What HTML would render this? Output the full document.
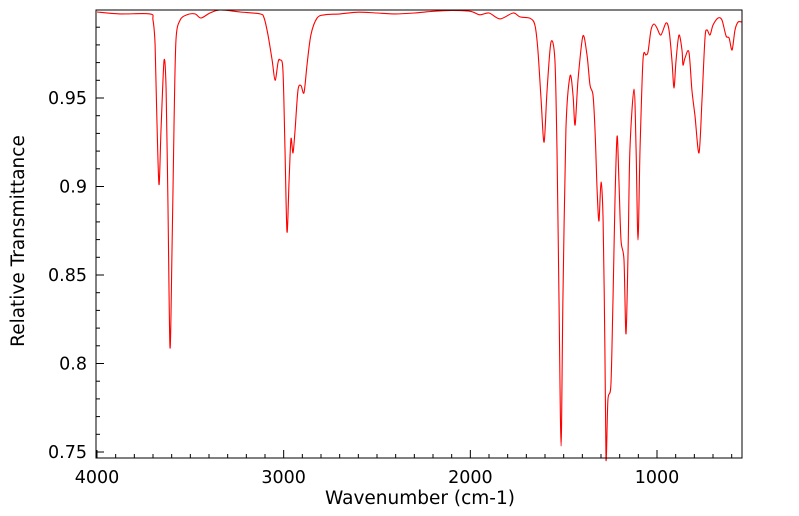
<!DOCTYPE html>
<html><head><meta charset="utf-8"><style>
body{margin:0;background:#fff;}
svg{display:block;font-family:"DejaVu Sans","Liberation Sans",sans-serif;}
</style></head><body>
<svg id="chart" width="799" height="516">
<g id="ticks"></g>
<g id="labels"></g>
<path id="line" fill="none" stroke="#ff0000" stroke-width="1.1" stroke-linejoin="round"/>
<rect x="96" y="10" width="646" height="448" fill="none" stroke="#000" stroke-width="1"/>
<text x="420" y="504" text-anchor="middle" font-size="18.5">Wavenumber (cm-1)</text>
<text x="0" y="0" text-anchor="middle" font-size="18.5" transform="translate(24,241) rotate(-90)">Relative Transmittance</text>
</svg>
<script>
const wavenumbers=[4000,3877,3716,3700,3689,3679,3668,3657,3641,3630,3620,3609,3598,3587,3577,3555,3518,3475,3443,3395,3341,3234,3127,3105,3084,3062,3046,3030,3020,3004,2993,2982,2971,2961,2950,2939,2923,2907,2891,2875,2854,2821,2779,2698,2600,2500,2400,2300,2200,2100,2000,1950,1900,1841,1771,1734,1680,1654,1638,1621,1605,1589,1568,1547,1536,1525,1514,1504,1488,1466,1450,1439,1423,1397,1375,1359,1343,1332,1321,1311,1300,1289,1279,1273,1263,1247,1236,1225,1214,1204,1193,1177,1166,1155,1145,1123,1112,1102,1091,1075,1059,1048,1032,1016,1000,979,952,936,920,909,898,882,866,861,850,829,813,797,775,759,743,732,716,700,673,652,630,614,598,582,566,545];
const transmittance=[0.9986,0.9975,0.9975,0.994,0.980,0.9376,0.901,0.932,0.971,0.955,0.892,0.809,0.864,0.9376,0.983,0.994,0.997,0.9975,0.9952,0.998,1.0,0.9986,0.9975,0.9952,0.9856,0.9715,0.960,0.9703,0.9715,0.966,0.9206,0.8743,0.9037,0.927,0.919,0.932,0.9545,0.957,0.953,0.9686,0.9856,0.9952,0.997,0.9975,0.9985,0.998,0.9975,0.998,0.999,0.9995,0.999,0.997,0.998,0.9947,0.998,0.9958,0.995,0.9912,0.977,0.949,0.925,0.9545,0.9816,0.9715,0.9206,0.8359,0.7534,0.8359,0.932,0.9624,0.9517,0.9347,0.9602,0.985,0.9743,0.9573,0.9517,0.932,0.898,0.8805,0.9025,0.881,0.8076,0.745,0.7794,0.7879,0.8359,0.8924,0.9285,0.9037,0.8698,0.8585,0.8167,0.8641,0.9206,0.955,0.9206,0.8698,0.9206,0.9715,0.9743,0.976,0.9884,0.9918,0.9895,0.9856,0.9924,0.9884,0.9715,0.9556,0.9715,0.9856,0.977,0.9686,0.9726,0.976,0.9545,0.9404,0.919,0.9489,0.9839,0.9884,0.9856,0.9912,0.9952,0.994,0.985,0.9839,0.9771,0.9884,0.9929,0.9929];
const xTickLabels=[4000,3000,2000,1000];
const yTickLabels=[0.75,0.8,0.85,0.9,0.95];
const NS="http://www.w3.org/2000/svg";
function xs(w){return 97+(4000-w)*0.18667;}
function ys(t){return 98+(0.95-t)*1770;}
const P=wavenumbers.map((w,i)=>[xs(w),Math.min(460,Math.max(10,ys(transmittance[i])))]);
let d="M"+P[0][0].toFixed(1)+","+P[0][1].toFixed(1);
for(let i=0;i<P.length-1;i++){
 const p0=P[Math.max(0,i-1)],p1=P[i],p2=P[i+1],p3=P[Math.min(P.length-1,i+2)];
 const t=0.15;
 const c1x=p1[0]+(p2[0]-p0[0])*t,c1y=p1[1]+(p2[1]-p0[1])*t;
 const c2x=p2[0]-(p3[0]-p1[0])*t,c2y=p2[1]-(p3[1]-p1[1])*t;
 d+=" C"+c1x.toFixed(1)+","+c1y.toFixed(1)+" "+c2x.toFixed(1)+","+c2y.toFixed(1)+" "+p2[0].toFixed(1)+","+p2[1].toFixed(1);
}
document.getElementById('line').setAttribute('d',d);
const tg=document.getElementById('ticks'),lg=document.getElementById('labels');
function ln(x1,y1,x2,y2){const l=document.createElementNS(NS,'line');
l.setAttribute('x1',x1);l.setAttribute('y1',y1);l.setAttribute('x2',x2);l.setAttribute('y2',y2);
l.setAttribute('stroke','#000');l.setAttribute('stroke-width','1');


tg.appendChild(l);}
for(let w=4000;w>=600;w-=100){const x=xs(w);ln(x,458,x,w%1000===0?450:454);}
for(let k=75;k<=99;k++){const y=ys(k/100);ln(96,y,k%5===0?104:100,y);}
xTickLabels.forEach(v=>{const t=document.createElementNS(NS,'text');
t.setAttribute('x',xs(v));t.setAttribute('y',483);t.setAttribute('text-anchor','middle');t.setAttribute('font-size','17.5');


t.textContent=v;lg.appendChild(t);});
yTickLabels.forEach(v=>{const t=document.createElementNS(NS,'text');
t.setAttribute('x',87);t.setAttribute('y',ys(v)+6);t.setAttribute('text-anchor','end');t.setAttribute('font-size','17.5');


t.textContent=String(v);lg.appendChild(t);});
</script>
</body></html>
